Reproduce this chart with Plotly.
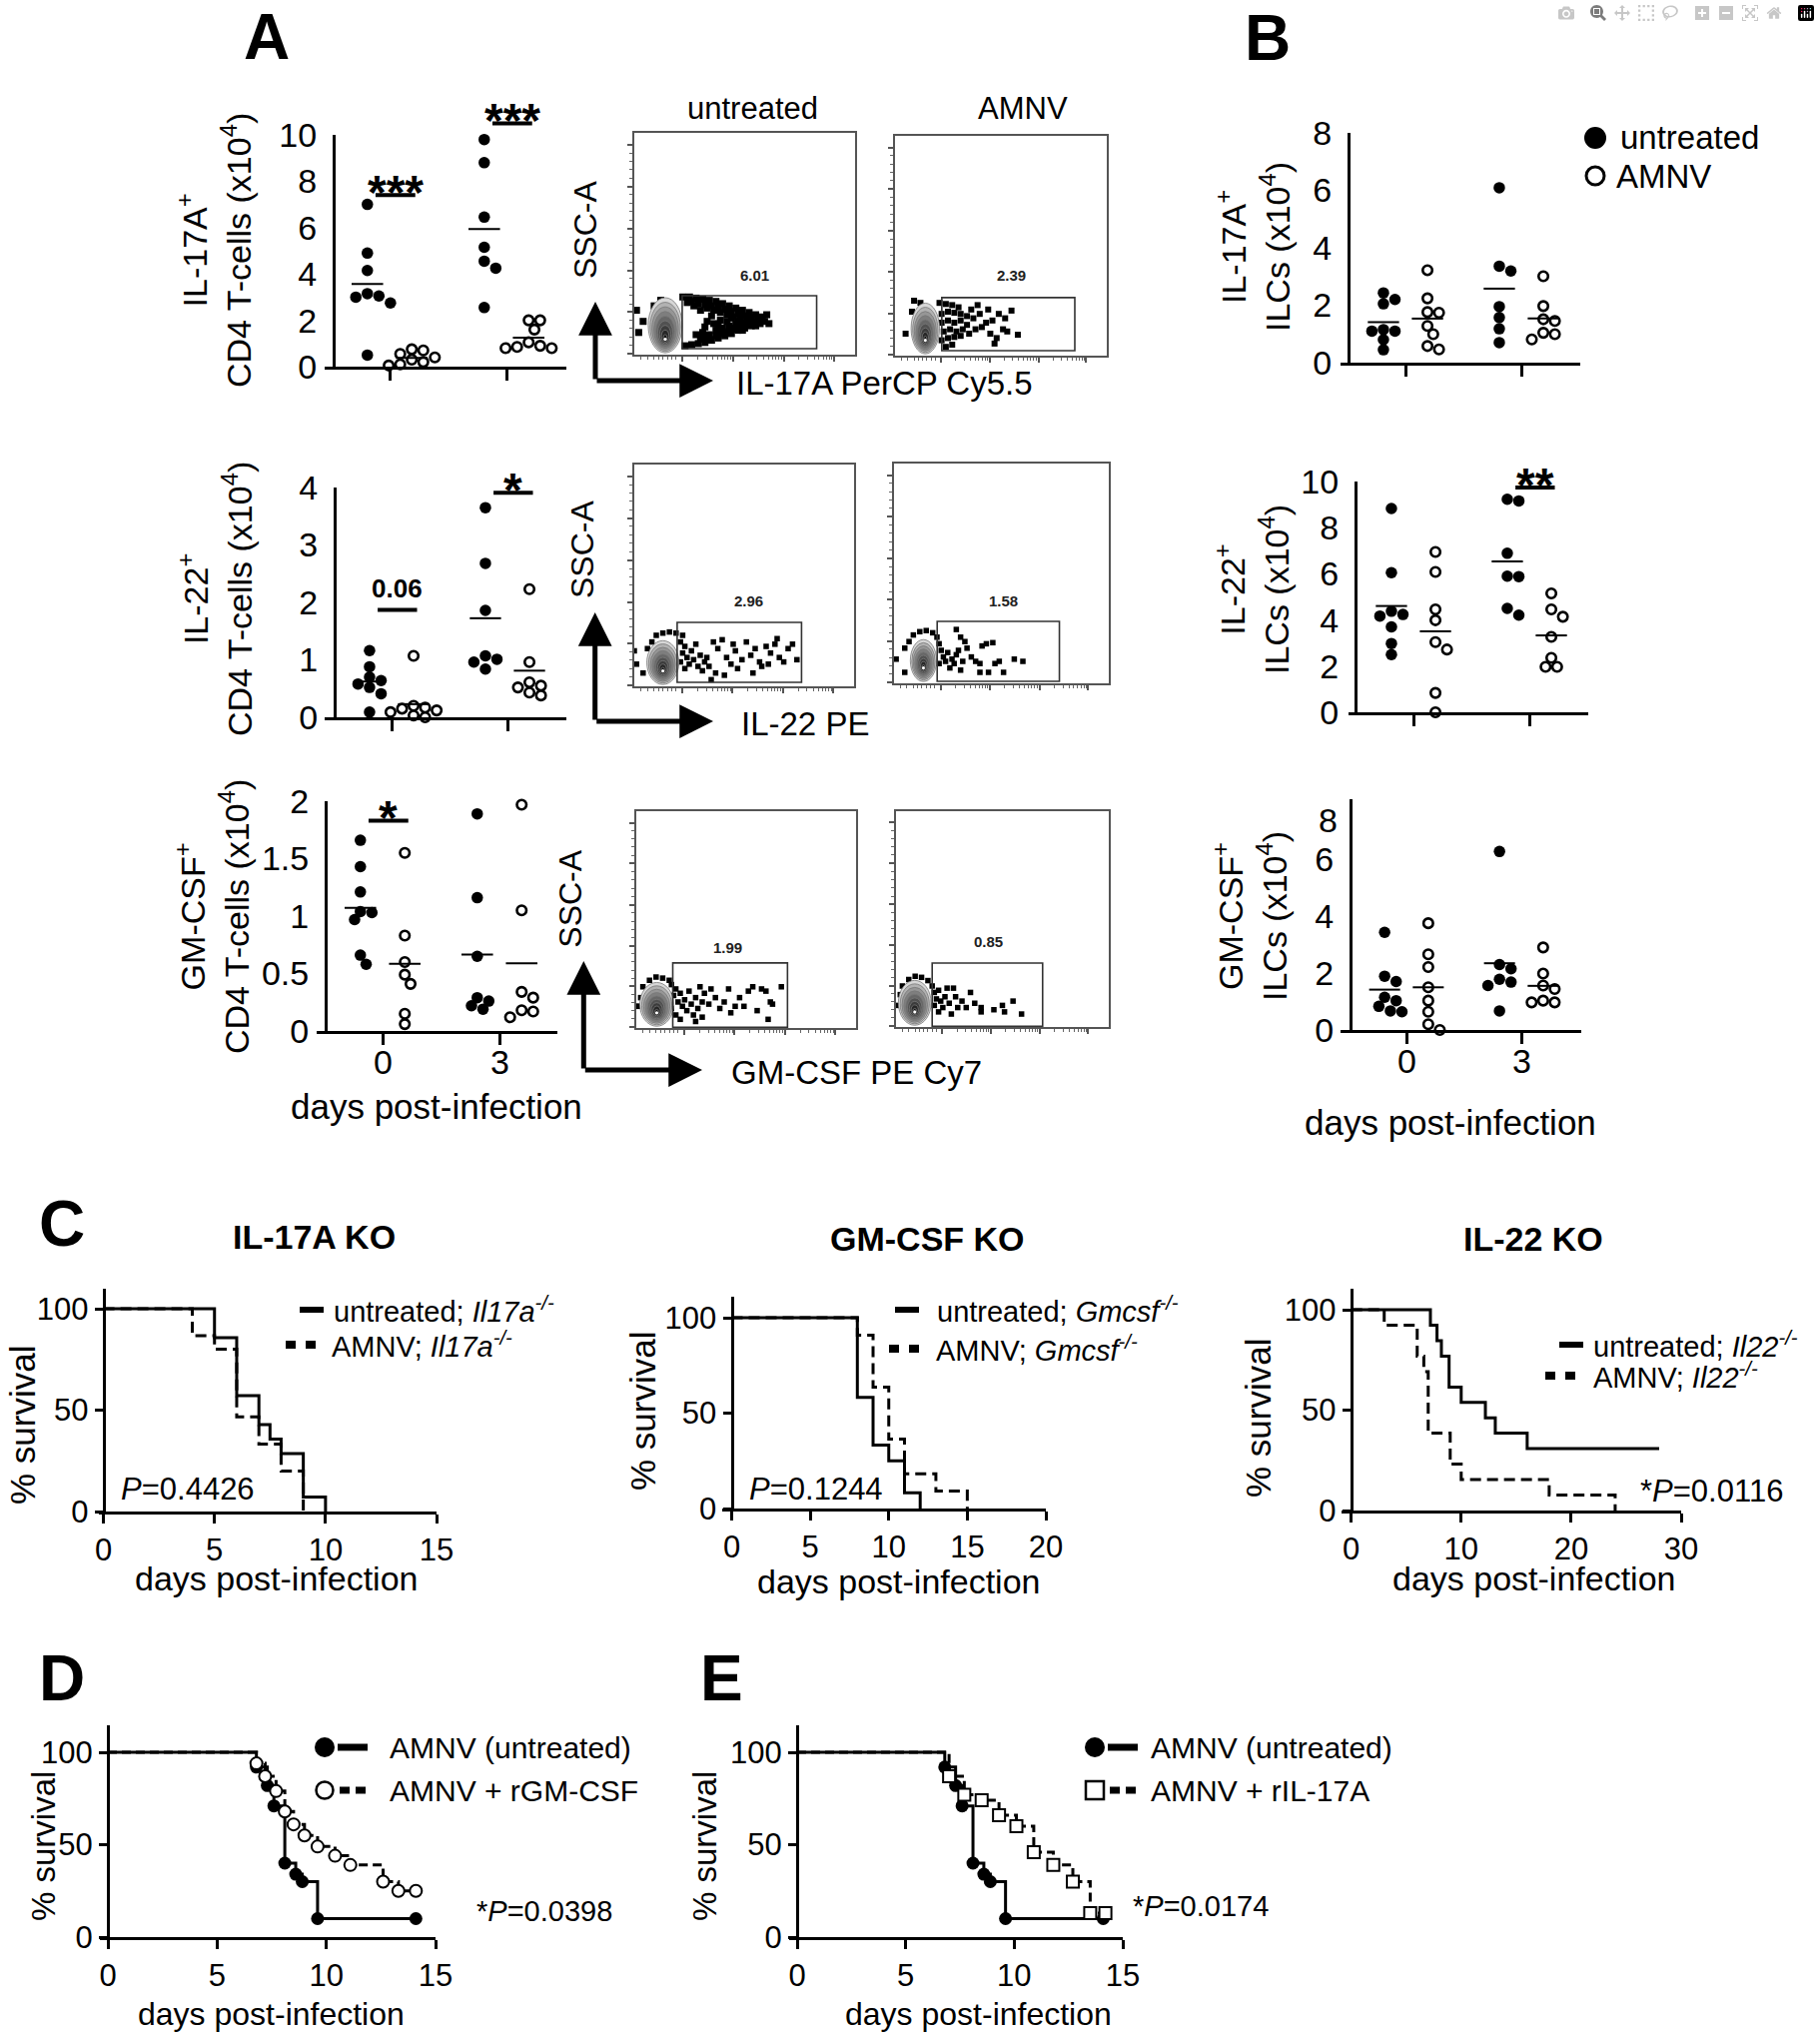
import numpy as np
import plotly.graph_objects as go

W, H = 1822, 2040
FONT = "Liberation Sans, Arial, Helvetica, sans-serif"
LW = 3

# ======================= DATA =======================
day_labels = ["0", "3"]

# Panel A : CD4 T-cells (x10^4); each list = [day 0 values, day 3 values]
cd4_il17a_untreated = [[7.0, 4.9, 4.15, 3.15, 3.05, 3.0, 2.75, 0.5],
                       [9.8, 8.8, 6.45, 5.15, 4.55, 4.25, 2.55]]
cd4_il17a_amnv = [[0.75, 0.7, 0.55, 0.4, 0.3, 0.2, 0.1, 0.05],
                  [2.0, 2.0, 1.6, 1.05, 0.9, 0.85, 0.8, 0.8]]
cd4_il22_untreated = [[1.16, 0.88, 0.7, 0.64, 0.58, 0.52, 0.41, 0.09],
                      [3.65, 2.68, 1.86, 1.07, 1.01, 0.96, 0.84]]
cd4_il22_amnv = [[1.07, 0.2, 0.17, 0.15, 0.12, 0.09, 0.03, 0.0],
                 [2.23, 0.96, 0.61, 0.55, 0.52, 0.43, 0.38]]
cd4_gmcsf_untreated = [[1.66, 1.43, 1.21, 1.04, 1.03, 0.97, 0.66, 0.58],
                       [1.89, 1.16, 0.65, 0.29, 0.26, 0.22, 0.19]]
cd4_gmcsf_amnv = [[1.55, 0.83, 0.6, 0.49, 0.41, 0.15, 0.06],
                  [1.97, 1.05, 0.34, 0.29, 0.18, 0.17, 0.12]]

# Panel B : ILCs (x10^4)
ilc_il17a_untreated = [[2.43, 2.2, 2.05, 1.15, 1.1, 1.1, 0.8, 0.45],
                       [6.09, 3.36, 3.19, 1.95, 1.57, 1.18, 0.7]]
ilc_il17a_amnv = [[3.22, 2.24, 1.76, 1.74, 1.28, 0.99, 0.58, 0.46],
                  [3.01, 1.97, 1.51, 1.45, 1.04, 0.99, 0.81]]
ilc_il22_untreated = [[8.83, 6.05, 4.38, 4.24, 4.17, 3.7, 2.98, 2.5],
                      [9.23, 9.16, 6.89, 5.9, 5.88, 4.5, 4.21]]
ilc_il22_amnv = [[6.95, 6.08, 4.46, 3.99, 3.04, 2.72, 0.84, 0.0],
                 [5.15, 4.46, 4.14, 3.27, 2.36, 1.97, 1.97]]
ilc_gmcsf_untreated = [[3.43, 1.89, 1.7, 1.15, 1.03, 0.83, 0.67, 0.64],
                       [6.27, 2.3, 2.15, 1.78, 1.68, 1.56, 0.67]]
ilc_gmcsf_amnv = [[3.75, 2.66, 2.21, 1.5, 1.03, 0.64, 0.2, 0.0],
                  [2.9, 1.98, 1.56, 1.44, 1.03, 0.97, 0.97]]

# significance marks: (label, day index, bar height in data units)
sig_cd4_il17a = [("***", 0, 7.4), ("***", 1, 10.5)]
sig_cd4_il22 = [("0.06", 0, 1.87), ("*", 1, 3.91)]
sig_cd4_gmcsf = [("*", 0, 1.83)]
sig_ilc_il22 = [("**", 1, 9.74)]

# Flow cytometry (events in plot units 0-100)
flow_titles = ["untreated", "AMNV"]
flow_channels = ["IL-17A PerCP Cy5.5", "IL-22 PE", "GM-CSF PE Cy7"]
flow_gate_pct = [["6.01", "2.39"], ["2.96", "1.58"], ["1.99", "0.85"]]

flow_il17a_unt_x = [22, 25, 28, 31, 34, 37, 40, 43, 46, 49, 52, 55, 58, 23, 26, 29, 32, 35, 38, 41, 44, 47, 50, 53,
                    30, 33, 36, 39, 42, 45, 48, 51, 54, 57, 31, 34, 37, 40, 43, 46, 49, 52, 33, 36, 39, 42, 45, 35,
                    38, 41, 44, 47, 50, 28, 27, 30, 32, 56, 59, 61, 60, 4, 1, 12, 9, 2,
                    24, 26, 29, 32, 35, 38, 31, 34, 37, 40, 43, 46, 49, 52, 55, 44, 47, 50, 53, 41, 38]
flow_il17a_unt_y = [26, 26, 25.5, 25, 24.5, 24, 23, 22, 21, 20, 19, 18, 17, 4, 4.5, 5, 5.5, 6.5, 7.5, 8.5, 9.5, 11, 12, 13,
                    20, 21, 20, 19, 18, 17, 16, 15, 15, 14, 10, 9, 11, 12, 13, 14, 13.5, 16, 15, 14, 15.5, 15, 12, 17.5,
                    22, 20.5, 19.5, 18.5, 17.5, 9, 22, 7, 12.5, 16, 15, 14, 18, 15, 20, 24.5, 22, 10,
                    23.5, 24, 23, 22.5, 22, 21.5, 7.5, 7, 8.5, 9.5, 10.5, 11.5, 11, 13.5, 13, 16.5, 15, 14.5, 17, 10, 13]
flow_il17a_amnv_x = [21, 24, 27, 30, 22, 25, 28, 31, 34, 22, 25, 28, 31, 34, 23, 26, 29, 32, 22, 25, 28, 31, 35, 24, 27,
                     37, 40, 43, 38, 41, 46, 49, 52, 55, 45, 48, 51, 47, 53, 58, 36, 39, 44, 8, 5, 9, 12]
flow_il17a_amnv_y = [24, 23.5, 23, 22, 19, 20, 19.5, 19, 18, 15, 16, 15, 16, 14, 11, 12, 11, 12, 7, 8, 8.5, 9, 10, 4, 5,
                     17, 19, 15, 12, 13, 16, 19, 17, 20.5, 10, 8, 12, 5.5, 11, 9.5, 21, 23, 21, 20, 10, 25, 24]
flow_il22_unt_x = [10, 13, 16, 19, 22, 8, 6, 21, 23, 22, 24, 21, 23, 25, 26, 27, 29, 28, 30, 32, 31, 34, 33,
                   36, 38, 40, 42, 44, 46, 47, 49, 51, 53, 55, 57, 58, 60, 62, 64, 65, 66, 68, 70, 72, 74, 37, 41, 35,
                   54, 45, 61, 0, 1, 4]
flow_il22_unt_y = [23, 24, 24.5, 24, 23, 20, 17, 20, 18, 15, 13, 11, 8, 10, 16, 12, 9, 19, 14, 11, 7, 9, 13,
                   20, 17, 21, 13, 10, 16, 8, 12, 20, 14, 17, 11, 9, 18, 15, 19, 21.5, 13, 11, 17, 19, 12, 6, 5, 3,
                   6, 19, 10, 16, 10, 6]
flow_il22_amnv_x = [9, 12, 15, 18, 20, 7, 5, 21, 22, 23, 21, 24, 25, 26, 27, 29, 28, 30, 32, 31,
                    29, 34, 36, 38, 40, 41, 43, 46, 47, 49, 51, 40, 44, 56, 60, 31, 33, 1, 5]
flow_il22_amnv_y = [22, 23.5, 24, 23, 21, 19, 16, 18, 15, 12, 9, 10, 14, 7, 11, 13, 9, 15, 10, 6,
                    24.5, 16, 12, 10, 9, 17, 18, 18.5, 9, 10, 5, 5, 5, 11, 10, 21, 19, 11, 5]
flow_gmcsf_unt_x = [6, 9, 12, 15, 3, 2, 1, 16, 18, 17, 19, 16, 18, 20, 21, 22, 23, 20, 24, 25, 26, 27, 28, 29, 30, 31, 27,
                    34, 36, 38, 40, 42, 43, 45, 47, 49, 51, 53, 55, 57, 59, 60, 61, 62, 66, 30, 33, 0]
flow_gmcsf_unt_y = [22, 23.5, 23, 22, 19, 14, 10, 20, 18, 15, 12, 9, 6, 16, 10, 13, 8, 4, 17, 11, 6, 14, 9, 19, 12, 16, 3,
                    18, 14, 9, 12, 18, 7, 10, 14, 10, 17, 19, 8, 18, 17, 4, 12, 11, 19, 5, 11, 10]
flow_gmcsf_amnv_x = [6, 9, 12, 15, 3, 2, 1, 17, 18, 19, 18, 20, 21, 20, 22, 23, 25, 24, 27, 28, 29, 26, 31, 33, 35, 37,
                     40, 40, 46, 50, 51, 55, 59]
flow_gmcsf_amnv_y = [22, 23.5, 23, 21.5, 19, 15, 10, 19, 16, 13, 10, 7, 12, 17, 9, 14, 11, 18, 18, 14, 9, 6, 12, 9, 16, 11,
                     9, 7, 8, 10, 7, 12, 6]

# Panel C : Kaplan-Meier (days, % survival)
km_il17a_untreated_t = [0, 5, 6, 7, 7.5, 8, 9, 10]
km_il17a_untreated_s = [100, 85.7, 57.1, 42.9, 35.7, 28.6, 7.1, 0]
km_il17a_amnv_t = [0, 4, 5, 6, 7, 8, 9]
km_il17a_amnv_s = [100, 86.7, 80.0, 46.7, 33.3, 20.0, 0]
km_gmcsf_untreated_t = [0, 8, 9, 10, 11, 12]
km_gmcsf_untreated_s = [100, 58.3, 33.3, 25.0, 8.3, 0]
km_gmcsf_amnv_t = [0, 8, 9, 10, 11, 13, 15]
km_gmcsf_amnv_s = [100, 90.9, 63.6, 36.4, 18.2, 9.1, 0]
km_il22_untreated_t = [0, 7.2, 7.8, 8.2, 8.9, 10, 12.2, 13.1, 16, 28]
km_il22_untreated_s = [100, 92.3, 84.6, 76.9, 61.5, 53.8, 46.2, 38.5, 30.8, 30.8]
km_il22_amnv_t = [0, 3, 6, 6.6, 7, 9, 10, 18, 24]
km_il22_amnv_s = [100, 92.3, 76.9, 69.2, 38.5, 23.1, 15.4, 7.7, 0]

# Panels D / E
km_amnv_ctrl_t = [0, 6.8, 7.3, 7.6, 8.1, 8.6, 8.9, 9.6, 14.1]
km_amnv_ctrl_s = [100, 92, 82, 71, 40, 34, 30, 10, 10]
km_rgmcsf_t = [0, 6.8, 7.2, 7.7, 8.1, 8.5, 9.0, 9.6, 10.4, 11.1, 12.6, 13.3, 14.1]
km_rgmcsf_s = [100, 94, 87, 79, 68, 61, 55, 49, 44, 39, 30, 25, 25]
km_ril17a_t = [0, 7, 7.7, 8.5, 9.3, 10.1, 10.9, 11.8, 12.7, 13.5, 14.2]
km_ril17a_s = [100, 87, 77, 74, 66, 60, 46, 39, 30, 13, 13]

# ======================= HELPERS =======================
layout = {}
traces = []
shapes = []
annots = []
ax_count = [0]


def PX(x):
    return x / W


def PY(y):
    return 1 - y / H


def cal(v_a, p_a, v_b, p_b):
    s = (p_b - p_a) / (v_b - v_a)
    return (lambda v: p_a + (v - v_a) * s), (lambda p: v_a + (p - p_a) / s)


def new_axes(xdom, ydom, xrng, yrng, ypos=None, xkw=None, ykw=None):
    ax_count[0] += 1
    n = ax_count[0]
    sx = '' if n == 1 else str(n)
    xa = dict(domain=[xdom[0] / W, xdom[1] / W], range=list(xrng), anchor='y' + sx,
              showgrid=False, zeroline=False, automargin=False)
    ya = dict(domain=[1 - ydom[1] / H, 1 - ydom[0] / H], range=list(yrng),
              showgrid=False, zeroline=False, automargin=False)
    if ypos is None:
        ya['anchor'] = 'x' + sx
    else:
        ya['anchor'] = 'free'
        ya['position'] = ypos / W
    xa.update(xkw or {})
    ya.update(ykw or {})
    layout['xaxis' + sx] = xa
    layout['yaxis' + sx] = ya
    return 'x' + sx, 'y' + sx


def txt(x, y, s, size, bold=False, angle=0, xanchor='center', yanchor='middle'):
    if bold:
        s = '<b>' + s + '</b>'
    annots.append(dict(x=PX(x), y=PY(y), xref='paper', yref='paper', text=s, showarrow=False,
                       font=dict(family=FONT, size=size, color='black'), textangle=angle,
                       xanchor=xanchor, yanchor=yanchor))


def prect(x0, y0, x1, y1, fill='black', line=None):
    shapes.append(dict(type='rect', xref='paper', yref='paper', x0=PX(x0), x1=PX(x1), y0=PY(y1), y1=PY(y0),
                       fillcolor=fill, line=line or dict(width=0)))


def pcircle(cx, cy, d, fill='black', lw=0):
    shapes.append(dict(type='circle', xref='paper', yref='paper', x0=PX(cx - d / 2), x1=PX(cx + d / 2),
                       y0=PY(cy + d / 2), y1=PY(cy - d / 2), fillcolor=fill,
                       line=dict(color='black', width=lw)))


def arrow(tip, tail):
    annots.append(dict(x=PX(tip[0]), y=PY(tip[1]), xref='paper', yref='paper', ax=tail[0] - tip[0],
                       ay=tail[1] - tip[1], axref='pixel', ayref='pixel', showarrow=True, arrowhead=2,
                       arrowsize=1.35, arrowwidth=5, arrowcolor='black', text='', standoff=0))


def swarm_offsets(vals, ppu, diam=10.5):
    ys = np.asarray(vals, float) * ppu
    order = np.argsort(-ys)
    placed = []
    offs = np.zeros(len(ys))
    step = diam * 0.55
    cands = [0.0]
    for j in range(1, 14):
        cands += [j * step, -j * step]
    for i in order:
        for c in cands:
            if all((c - qx) ** 2 + (ys[i] - qy) ** 2 >= (diam * 0.92) ** 2 for qx, qy in placed):
                offs[i] = c
                placed.append((c, ys[i]))
                break
    return offs


TICKFONT_AB = dict(family=FONT, size=34, color='black')
TICKFONT_KM = dict(family=FONT, size=31, color='black')


def scatter_panel(unt, amn, sig, title, cfg):
    xpx, xv = cal(0, cfg['d0'], 1, cfg['d3'])
    ypx, yv = cal(0, cfg['ybot'], cfg['vref'], cfg['vref_px'])
    xrng = (xv(cfg['xl']), xv(cfg['xr']))
    yrng = (yv(cfg['ybot']), yv(cfg['ytop']))
    ytext = cfg.get('ytext', [('%g' % v) for v in cfg['yticks']])
    xkw = dict(showline=True, linewidth=LW, linecolor='black', ticks='outside', ticklen=11, tickwidth=LW,
               tickcolor='black', tickmode='array', tickvals=[0, 1], ticktext=['', ''], tickfont=TICKFONT_AB)
    ykw = dict(showline=True, linewidth=LW, linecolor='black', ticks='outside', ticklen=9,
               tickcolor='rgba(0,0,0,0)', tickmode='array', tickvals=cfg['yticks'],
               ticktext=ytext, tickfont=TICKFONT_AB)
    xa, ya = new_axes((cfg['xl'], cfg['xr']), (cfg['ytop'], cfg['ybot']), xrng, yrng, cfg['ya'], xkw, ykw)
    if cfg['xlab']:
        for di in range(2):
            txt(xpx(di), cfg['ybot'] + 31, day_labels[di], 34)
    ppu = abs(cfg['ybot'] - cfg['vref_px']) / cfg['vref']
    upx = cfg['d3'] - cfg['d0']
    for di in range(2):
        for gi, vals in enumerate([unt[di], amn[di]]):
            center = di + (-0.19 if gi == 0 else 0.19)
            offs = swarm_offsets(vals, ppu)
            xs = center + offs / upx
            if gi == 0:
                mk = dict(size=11.5, color='black', symbol='circle')
            else:
                mk = dict(size=9.5, color='white', symbol='circle', line=dict(color='black', width=2.6))
            traces.append(go.Scatter(x=xs, y=vals, mode='markers', marker=mk, xaxis=xa, yaxis=ya,
                                     cliponaxis=False, showlegend=False, hoverinfo='skip'))
            m = float(np.mean(vals))
            traces.append(go.Scatter(x=[center - 0.135, center + 0.135], y=[m, m], mode='lines',
                                     line=dict(color='black', width=2), xaxis=xa, yaxis=ya,
                                     showlegend=False, hoverinfo='skip'))
    for label, di, yb in sig:
        x0, x1, yp = xpx(di - 0.12), xpx(di + 0.22), ypx(yb)
        prect(x0, yp - 2, x1, yp + 2)
        if '*' in label:
            txt((x0 + x1) / 2, yp - 3, label, 48, bold=True)
        else:
            txt((x0 + x1) / 2, yp - 21, label, 26, bold=True)
    txt(cfg['tx'], cfg['ty'], title, 34, angle=-90)


def km_panel(curves, cfg):
    xpx, xv = cal(0, cfg['x0'], cfg['xref'], cfg['xref_px'])
    ypx, yv = cal(0, cfg['ybot'], 100, cfg['y100'])
    xrng = (xv(cfg['xl']), xv(cfg['xr']))
    yrng = (yv(cfg['ybot']), yv(cfg['ytop']))
    xkw = dict(showline=True, linewidth=LW, linecolor='black', ticks='outside', ticklen=9, tickwidth=LW,
               tickcolor='black', tickmode='array', tickvals=cfg['xticks'], tickfont=TICKFONT_KM)
    ykw = dict(showline=True, linewidth=LW, linecolor='black', ticks='outside', ticklen=8, tickwidth=LW,
               tickcolor='black', tickmode='array', tickvals=[0, 50, 100], tickfont=TICKFONT_KM)
    xa, ya = new_axes((cfg['xl'], cfg['xr']), (cfg['ytop'], cfg['ybot']), xrng, yrng, cfg['x0'], xkw, ykw)
    for c in curves:
        traces.append(go.Scatter(x=c['t'], y=c['s'], mode='lines', line_shape='hv',
                                 line=dict(color='black', width=3, dash=c['dash']), xaxis=xa, yaxis=ya,
                                 showlegend=False, hoverinfo='skip', cliponaxis=False))
        if c.get('marker'):
            kind = c['marker']
            if kind == 'filled':
                mk = dict(size=13, color='black', symbol='circle')
            elif kind == 'open':
                mk = dict(size=12, color='white', symbol='circle', line=dict(color='black', width=2))
            else:
                mk = dict(size=12, color='white', symbol='square', line=dict(color='black', width=2))
            traces.append(go.Scatter(x=c['t'][1:], y=c['s'][1:], mode='markers', marker=mk, xaxis=xa,
                                     yaxis=ya, showlegend=False, hoverinfo='skip', cliponaxis=False))


def flow_panel(box, xs, ys, blob, gate, pct, label_pos, dot_size):
    x0, y0, x1, y1 = box
    lmaj = [0.5, 19.2, 38, 56.8, 75.9, 94.7]
    lmin = [a + (b - a) * k / 5 for a, b in zip(lmaj[:-1], lmaj[1:]) for k in range(1, 5)]
    bmaj = [21.8, 44.7, 67.7, 90.3]
    bmin = [3, 6, 9, 11, 13, 15, 17, 19] + [d + 22.9 * np.log10(k) for d in bmaj[:-1] for k in range(2, 10)]
    common = dict(showline=True, mirror=True, linewidth=1.5, linecolor='#555', ticks='outside', ticklen=5,
                  tickwidth=1.5, tickcolor='#555', showticklabels=False, tickmode='array')
    xkw = dict(common, tickvals=bmaj, minor=dict(tickmode='array', tickvals=bmin, ticks='outside', ticklen=3,
                                                 tickwidth=1, tickcolor='#666'))
    ykw = dict(common, tickvals=lmaj, minor=dict(tickmode='array', tickvals=lmin, ticks='outside', ticklen=3,
                                                 tickwidth=1, tickcolor='#666'))
    xa, ya = new_axes((x0, x1), (y0, y1), (0, 100), (0, 100), None, xkw, ykw)
    traces.append(go.Scatter(x=xs, y=ys, mode='markers', xaxis=xa, yaxis=ya, cliponaxis=True,
                             marker=dict(symbol='square', size=dot_size, color='black'),
                             showlegend=False, hoverinfo='skip'))
    cx, hw, top = blob
    n = 9
    cy, bot = 7.0, 0.8
    for k in range(n):
        f = 1 - k / n
        g = int(215 - 195 * (k / (n - 1)) ** 0.8)
        shapes.append(dict(type='circle', xref=xa, yref=ya, x0=cx - hw * f, x1=cx + hw * f,
                           y0=cy - (cy - bot) * f, y1=cy + (top - cy) * f,
                           fillcolor=f'rgb({g},{g},{g})', line=dict(color='rgb(120,120,120)', width=0.8),
                           layer='above'))
    shapes.append(dict(type='circle', xref=xa, yref=ya, x0=cx - 0.7, x1=cx + 0.7, y0=cy - 0.7, y1=cy + 0.7,
                       fillcolor='white', line=dict(width=0), layer='above'))
    gx0, gx1, gy0, gy1 = gate
    shapes.append(dict(type='rect', xref=xa, yref=ya, x0=gx0, x1=gx1, y0=gy0, y1=gy1,
                       line=dict(color='#333', width=1.6), fillcolor='rgba(0,0,0,0)', layer='above'))
    annots.append(dict(x=label_pos[0], y=label_pos[1], xref=xa, yref=ya, text='<b>' + pct + '</b>',
                       showarrow=False, font=dict(family=FONT, size=15, color='#222')))


# ======================= PANEL A : scatter =======================
scatter_panel(cd4_il17a_untreated, cd4_il17a_amnv, sig_cd4_il17a,
              "IL-17A<sup>+</sup><br>CD4 T-cells (x10<sup>4</sup>)",
              dict(xl=325, xr=567, ya=334, d0=390, d3=507, ytop=135, ybot=367, vref=10, vref_px=135,
                   yticks=[0, 2, 4, 6, 8, 10], xlab=False, tx=214, ty=251))
scatter_panel(cd4_il22_untreated, cd4_il22_amnv, sig_cd4_il22,
              "IL-22<sup>+</sup><br>CD4 T-cells (x10<sup>4</sup>)",
              dict(xl=325, xr=567, ya=335, d0=392, d3=508, ytop=488, ybot=718, vref=4, vref_px=488,
                   yticks=[0, 1, 2, 3, 4], xlab=False, tx=215, ty=600))
scatter_panel(cd4_gmcsf_untreated, cd4_gmcsf_amnv, sig_cd4_gmcsf,
              "GM-CSF<sup>+</sup><br>CD4 T-cells (x10<sup>4</sup>)",
              dict(xl=317, xr=558, ya=326, d0=383, d3=500, ytop=802, ybot=1032, vref=2, vref_px=802,
                   yticks=[0, 0.5, 1, 1.5, 2], xlab=True, tx=213, ty=918))
txt(437, 1107, "days post-infection", 35)

# ======================= PANEL A : flow =======================
flow_boxes = [[(635, 133, 856, 355), (896, 136, 1108, 356)],
              [(635, 465, 855, 687), (895, 464, 1110, 684)],
              [(637, 812, 857, 1029), (897, 812, 1110, 1028)]]
flow_gates = [[(21.7, 82.6, 2.7, 26.6), (22.1, 84.9, 2.3, 26.4)],
              [(19.5, 76.1, 1.8, 28.8), (20.1, 77.0, 0.9, 28.2)],
              [(16.6, 68.8, 0.3, 30.0), (17.0, 68.9, 0.3, 29.6)]]
flow_label_pos = [[(54.6, 36), (54.8, 36.8)], [(52.2, 38.7), (51, 37.3)], [(41.5, 37.3), (43.2, 39.4)]]
flow_blobs = [[(14.0, 7.7, 25.7), (14.3, 6.7, 23.9)],
              [(13.0, 7.3, 20.6), (13.7, 6.1, 19.9)],
              [(9.3, 7.7, 21.0), (8.8, 7.7, 21.6)]]
flow_dot_sizes = [[7, 6], [5.5, 5.5], [5.5, 5.5]]
flow_events = [[(flow_il17a_unt_x, flow_il17a_unt_y), (flow_il17a_amnv_x, flow_il17a_amnv_y)],
               [(flow_il22_unt_x, flow_il22_unt_y), (flow_il22_amnv_x, flow_il22_amnv_y)],
               [(flow_gmcsf_unt_x, flow_gmcsf_unt_y), (flow_gmcsf_amnv_x, flow_gmcsf_amnv_y)]]
for r in range(3):
    for c in range(2):
        ex, ey = flow_events[r][c]
        flow_panel(flow_boxes[r][c], ex, ey, flow_blobs[r][c], flow_gates[r][c], flow_gate_pct[r][c],
                   flow_label_pos[r][c], flow_dot_sizes[r][c])
txt(753, 108, flow_titles[0], 31)
txt(1024, 108, flow_titles[1], 31)
arrow_geo = [((596, 381), 302, 714, (586, 230), 735),
             ((595.7, 722), 613, 714, (583, 550), 740),
             ((584.3, 1071), 962, 703, (570.7, 900), 730)]
for r, (corner, ytip, xtip, ssc, lab_x) in enumerate(arrow_geo):
    arrow((corner[0], ytip), corner)
    arrow((xtip, corner[1]), corner)
    txt(ssc[0], ssc[1], "SSC-A", 32, angle=-90)
    txt(lab_x, corner[1] + 2, flow_channels[r], 33, xanchor='left')

# ======================= PANEL B =======================
scatter_panel(ilc_il17a_untreated, ilc_il17a_amnv, [],
              "IL-17A<sup>+</sup><br>ILCs (x10<sup>4</sup>)",
              dict(xl=1342, xr=1582, ya=1350, d0=1407, d3=1523, ytop=133, ybot=363, vref=8, vref_px=133,
                   yticks=[0, 2, 4, 6, 8], xlab=False, tx=1254, ty=247))
scatter_panel(ilc_il22_untreated, ilc_il22_amnv, sig_ilc_il22,
              "IL-22<sup>+</sup><br>ILCs (x10<sup>4</sup>)",
              dict(xl=1350, xr=1590, ya=1357, d0=1415, d3=1531, ytop=482, ybot=713, vref=10, vref_px=482,
                   yticks=[0, 2, 4, 6, 8, 10], xlab=False, tx=1253, ty=590))
scatter_panel(ilc_gmcsf_untreated, ilc_gmcsf_amnv, [],
              "GM-CSF<sup>+</sup><br>ILCs (x10<sup>4</sup>)",
              dict(xl=1342, xr=1583, ya=1352, d0=1408, d3=1523, ytop=800, ybot=1031, vref=8, vref_px=803,
                   yticks=[0, 2, 4, 6, 8], ytext=['0', '2', '4', '6', ''], xlab=True, tx=1252, ty=917))
txt(1341, 821, "8", 34, xanchor='right')
txt(1452, 1123, "days post-infection", 35)
# legend B
pcircle(1597, 138, 22, fill='black')
txt(1620, 138, "untreated", 33, xanchor='left')
pcircle(1597, 176, 18, fill='white', lw=3)
txt(1616, 176, "AMNV", 33, xanchor='left')

# ======================= PANEL C =======================
km_panel([dict(t=km_il17a_untreated_t, s=km_il17a_untreated_s, dash='solid'),
          dict(t=km_il17a_amnv_t, s=km_il17a_amnv_s, dash='11px,6px')],
         dict(xl=99, xr=437, x0=103.6, xref=15, xref_px=437, ybot=1513, y100=1310, ytop=1290,
              xticks=[0, 5, 10, 15]))
km_panel([dict(t=km_gmcsf_untreated_t, s=km_gmcsf_untreated_s, dash='solid'),
          dict(t=km_gmcsf_amnv_t, s=km_gmcsf_amnv_s, dash='11px,6px')],
         dict(xl=722.6, xr=1047, x0=732.5, xref=20, xref_px=1047, ybot=1510, y100=1319, ytop=1298,
              xticks=[0, 5, 10, 15, 20]))
km_panel([dict(t=km_il22_untreated_t, s=km_il22_untreated_s, dash='solid'),
          dict(t=km_il22_amnv_t, s=km_il22_amnv_s, dash='11px,6px')],
         dict(xl=1342.8, xr=1683, x0=1352.7, xref=30, xref_px=1683, ybot=1512, y100=1311, ytop=1290,
              xticks=[0, 10, 20, 30]))
txt(314, 1238, "IL-17A KO", 34, bold=True)
txt(928, 1240, "GM-CSF KO", 34, bold=True)
txt(1535, 1240, "IL-22 KO", 34, bold=True)
for (x, y) in [(22, 1427), (643, 1413), (1259, 1420)]:
    txt(x, y, "% survival", 35, angle=-90)
for (x, y) in [(277, 1580), (900, 1583), (1536, 1580)]:
    txt(x, y, "days post-infection", 34)


def legend_solid(cx, cy):
    prect(cx - 12, cy - 3, cx + 12, cy + 3)


def legend_dashed(cx, cy):
    prect(cx - 15, cy - 4, cx - 5, cy + 4)
    prect(cx + 5, cy - 4, cx + 15, cy + 4)


LEGF = 29
legend_solid(312, 1311)
txt(332, 1311, "untreated; <i>Il17a</i><sup><i>-/-</i></sup>", LEGF, xanchor='left')
legend_dashed(301, 1346)
txt(330, 1346, "AMNV; <i>Il17a</i><sup><i>-/-</i></sup>", LEGF, xanchor='left')
legend_solid(908, 1311)
txt(936, 1311, "untreated; <i>Gmcsf</i><sup><i>-/-</i></sup>", LEGF, xanchor='left')
legend_dashed(905, 1350)
txt(935, 1350, "AMNV; <i>Gmcsf</i><sup><i>-/-</i></sup>", LEGF, xanchor='left')
legend_solid(1573, 1346)
txt(1593, 1346, "untreated; <i>Il22</i><sup><i>-/-</i></sup>", LEGF, xanchor='left')
legend_dashed(1562, 1377)
txt(1593, 1377, "AMNV; <i>Il22</i><sup><i>-/-</i></sup>", LEGF, xanchor='left')
txt(119, 1490, "<i>P</i>=0.4426", 31, xanchor='left')
txt(748, 1490, "<i>P</i>=0.1244", 31, xanchor='left')
txt(1640, 1492, "*<i>P</i>=0.0116", 31, xanchor='left')

# ======================= PANELS D / E =======================
km_panel([dict(t=km_amnv_ctrl_t, s=km_amnv_ctrl_s, dash='solid', marker='filled'),
          dict(t=km_rgmcsf_t, s=km_rgmcsf_s, dash='9px,5px', marker='open')],
         dict(xl=100, xr=436, x0=108, xref=15, xref_px=436, ybot=1939, y100=1754, ytop=1727,
              xticks=[0, 5, 10, 15]))
km_panel([dict(t=km_amnv_ctrl_t, s=km_amnv_ctrl_s, dash='solid', marker='filled'),
          dict(t=km_ril17a_t, s=km_ril17a_s, dash='9px,5px', marker='square')],
         dict(xl=790, xr=1124, x0=798, xref=15, xref_px=1124, ybot=1939, y100=1754, ytop=1727,
              xticks=[0, 5, 10, 15]))
for (x, y) in [(43, 1848), (705, 1848)]:
    txt(x, y, "% survival", 33, angle=-90)
for (x, y) in [(271, 2016), (979, 2016)]:
    txt(x, y, "days post-infection", 32)
pcircle(325, 1749, 20, fill='black')
prect(338, 1745.5, 368, 1752.5)
txt(388, 1749, "AMNV (untreated)", 30, xanchor='left')
pcircle(325, 1792, 17, fill='white', lw=2.5)
prect(340, 1788.5, 350, 1795.5)
prect(356, 1788.5, 366, 1795.5)
txt(388, 1792, "AMNV + rGM-CSF", 30, xanchor='left')
pcircle(1096, 1749, 20, fill='black')
prect(1109, 1745.5, 1139, 1752.5)
txt(1150, 1749, "AMNV (untreated)", 30, xanchor='left')
prect(1087, 1783, 1105, 1801, fill='white', line=dict(color='black', width=2.5))
prect(1111, 1788.5, 1121, 1795.5)
prect(1127, 1788.5, 1137, 1795.5)
txt(1150, 1792, "AMNV + rIL-17A", 30, xanchor='left')
txt(475, 1913, "*<i>P</i>=0.0398", 29, xanchor='left')
txt(1132, 1908, "*<i>P</i>=0.0174", 29, xanchor='left')

# ======================= PANEL LETTERS =======================
for (x, y, s) in [(267, 37, "A"), (1269, 38, "B"), (62, 1225, "C"), (62, 1680, "D"), (722, 1680, "E")]:
    txt(x, y, s, 64, bold=True)

fig = go.Figure(data=traces)
fig.update_layout(width=W, height=H, margin=dict(l=0, r=0, t=0, b=0, pad=0, autoexpand=False),
                  paper_bgcolor='white', plot_bgcolor='white', showlegend=False, shapes=shapes,
                  annotations=annots, font=dict(family=FONT, color='black'), **layout)
fig.write_html("out.html", post_script="document.body.style.margin='0';document.body.style.overflow='hidden';")
